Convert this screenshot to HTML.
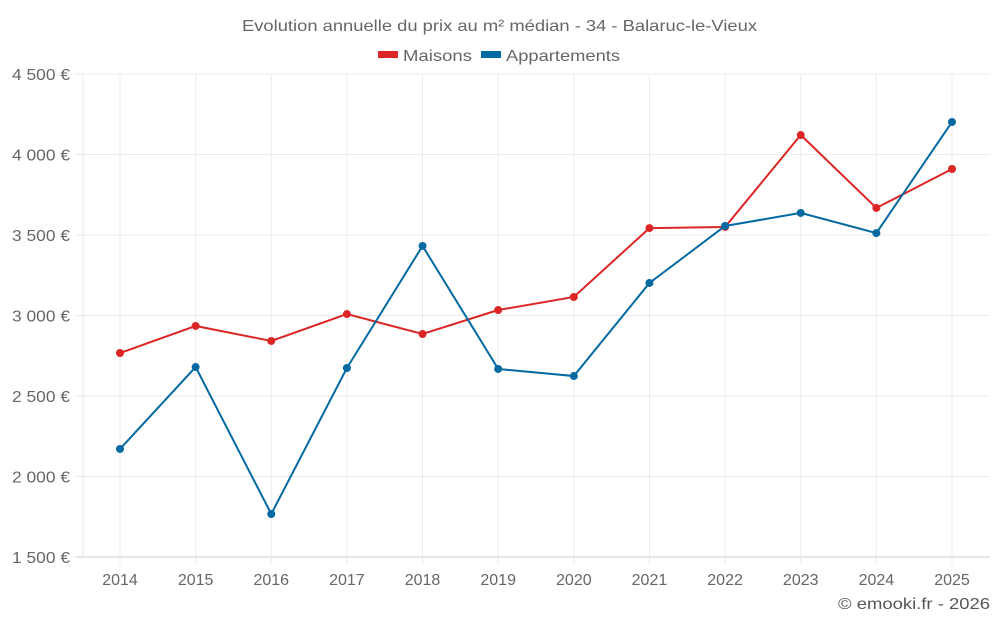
<!DOCTYPE html>
<html><head><meta charset="utf-8"><style>
body{margin:0;background:#fff;font-family:"Liberation Sans",sans-serif;}
text{font-family:"Liberation Sans",sans-serif;}
</style></head><body>
<svg id="c" width="1000" height="625">
<text x="242" y="31" textLength="515" lengthAdjust="spacingAndGlyphs" font-size="16" fill="#666">Evolution annuelle du prix au m² médian - 34 - Balaruc-le-Vieux</text>
<g>
<g><rect x="378" y="51" width="20" height="7" fill="#dc2626"/><text x="403" y="61" textLength="69" lengthAdjust="spacingAndGlyphs" font-size="16" fill="#666">Maisons</text></g>
<g><rect x="481" y="51" width="20" height="7" fill="#0369a1"/><text x="506" y="61" textLength="114" lengthAdjust="spacingAndGlyphs" font-size="16" fill="#666">Appartements</text></g>
</g>
<g id="grid"></g><g id="axes"></g><g id="series"></g>
<text x="838" y="609" textLength="152" lengthAdjust="spacingAndGlyphs" font-size="16" fill="#555">© emooki.fr - 2026</text>
</svg>
<script>
const years=[2014,2015,2016,2017,2018,2019,2020,2021,2022,2023,2024,2025];
const maisons=[2767,2935,2842,3009,2885,3034,3115,3543,3550,4121,3668,3910];
const appartements=[2171,2680,1767,2674,3432,2668,2624,3202,3556,3637,3512,4202];
const yTicks=[1500,2000,2500,3000,3500,4000,4500];
const yTickLabels=["1 500 €","2 000 €","2 500 €","3 000 €","3 500 €","4 000 €","4 500 €"];
const NS="http://www.w3.org/2000/svg";
const L=83,R=990,T=74,B=557,yMin=1500,yMax=4500;
const x=i=>120+i*(952-120)/(years.length-1);
const y=v=>B-(v-yMin)/(yMax-yMin)*(B-T);
function mk(t,a,p){const e=document.createElementNS(NS,t);for(const k in a)e.setAttribute(k,a[k]);p.appendChild(e);return e;}
const g=document.getElementById('grid'),ax=document.getElementById('axes'),s=document.getElementById('series');
mk('line',{x1:L,x2:L,y1:T,y2:B,stroke:'#e8e8e8'},g);
yTicks.forEach((v,i)=>{
 const ln=mk('line',{x1:76,x2:R,y1:y(v),y2:y(v),stroke:i==0?'#ccc':'#ebebeb'},g);
 
 
 const t=mk('text',{x:70,y:y(v)+6,'text-anchor':'end','font-size':16,fill:'#666',textLength:58,lengthAdjust:'spacingAndGlyphs'},ax);
 t.textContent=yTickLabels[i];
 
 
});
years.forEach((yr,i)=>{
 const ln=mk('line',{x1:x(i),x2:x(i),y1:T,y2:B+7,stroke:'#ebebeb'},g);
 
 
 const t=mk('text',{x:x(i),y:585,'text-anchor':'middle','font-size':16,fill:'#666'},ax);
 t.textContent=yr;
 
 
});
function series(data,color,name){
 const p=mk('polyline',{points:data.map((v,i)=>x(i)+','+y(v)).join(' '),fill:'none',stroke:color,'stroke-width':2},s);
 
 
 data.forEach((v,i)=>{
  const c=mk('circle',{cx:x(i),cy:y(v),r:4,fill:color},s);
  
  
 });
}
series(maisons,'#dc2626','maisons');
series(appartements,'#0369a1','appartements');
</script>
</body></html>
